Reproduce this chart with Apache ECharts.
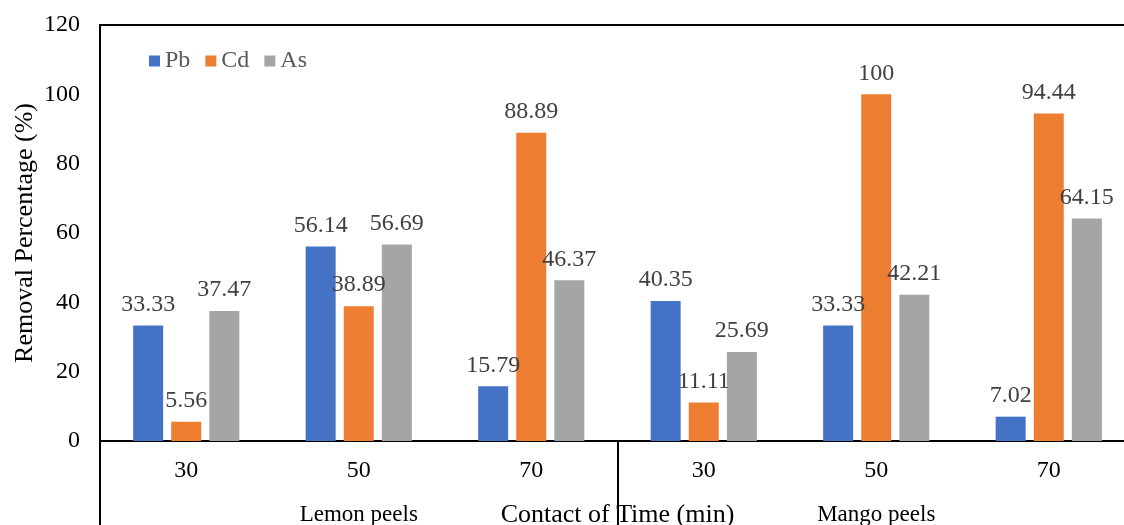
<!DOCTYPE html>
<html>
<head>
<meta charset="utf-8">
<script src="https://cdn.jsdelivr.net/npm/echarts@6/dist/echarts.min.js"></script>
<style>
    html, body { margin: 0; padding: 0; background: #fff; }
    #chart { width: 1124px; height: 525px; }
</style>
</head>
<body>
<div id="chart"></div>
<script>
// contact time per group, then the peel type underneath
var timeLabels = ["30", "50", "70", "30", "50", "70"];
var peelLabels = ["Lemon peels", "Mango peels"];

var pbValues = [33.33, 56.14, 15.79, 40.35, 33.33, 7.02];
var cdValues = [5.56, 38.89, 88.89, 11.11, 100, 94.44];
var asValues = [37.47, 56.69, 46.37, 25.69, 42.21, 64.15];

var yTicks = { min: 0, max: 120, interval: 20 };

var font = "'Liberation Serif', 'Times New Roman', serif";

function barSeries(name, values, color) {
    return {
        name: name,
        type: "bar",
        data: values,
        barWidth: 30,
        barGap: "27%",
        itemStyle: { color: color },
        label: {
            show: true,
            position: "top",
            distance: 9,
            color: "#404040",
            fontFamily: font,
            fontSize: 24
        }
    };
}

var chart = echarts.init(document.getElementById("chart"));
var option = {
    animation: false,
    textStyle: { fontFamily: font },
    legend: {
        left: 144,
        top: 44,
        icon: "rect",
        itemWidth: 11,
        itemHeight: 11,
        itemGap: 15,
        textStyle: { color: "#595959", fontFamily: font, fontSize: 24 },
        data: ["Pb", "Cd", "As"]
    },
    // the plot runs a little past the right edge, as in the original
    grid: {
        left: 100,
        width: 1035,
        top: 25,
        bottom: 84,
        outerBoundsMode: "none",
        containLabel: false,
        show: true,
        borderColor: "#000",
        borderWidth: 2
    },
    xAxis: [
        {
            type: "category",
            data: timeLabels,
            name: "Contact of Time (min)",
            nameLocation: "middle",
            nameGap: 61,
            nameMoveOverlap: false,
            nameTextStyle: { color: "#000", fontFamily: font, fontSize: 26 },
            axisLine: { lineStyle: { color: "#000", width: 2 } },
            axisTick: { show: false },
            axisLabel: { color: "#000", fontFamily: font, fontSize: 24, margin: 18, interval: 0 }
        },
        {
            type: "category",
            data: peelLabels,
            position: "bottom",
            axisLine: { show: false },
            axisTick: { show: true, length: 84, inside: false, lineStyle: { color: "#000", width: 2 } },
            axisLabel: { color: "#000", fontFamily: font, fontSize: 23, margin: 62, interval: 0 }
        }
    ],
    yAxis: {
        type: "value",
        min: yTicks.min,
        max: yTicks.max,
        interval: yTicks.interval,
        name: "Removal Percentage (%)",
        nameLocation: "middle",
        nameGap: 62,
        nameMoveOverlap: false,
        nameTextStyle: { color: "#000", fontFamily: font, fontSize: 26 },
        axisLine: { show: true, lineStyle: { color: "#000", width: 2 } },
        axisTick: { show: false },
        splitLine: { show: false },
        axisLabel: { color: "#000", fontFamily: font, fontSize: 24, margin: 20 }
    },
    series: [
        barSeries("Pb", pbValues, "#4472C4"),
        barSeries("Cd", cdValues, "#ED7D31"),
        barSeries("As", asValues, "#A5A5A5")
    ]
};
chart.setOption(option);
</script>
</body>
</html>
